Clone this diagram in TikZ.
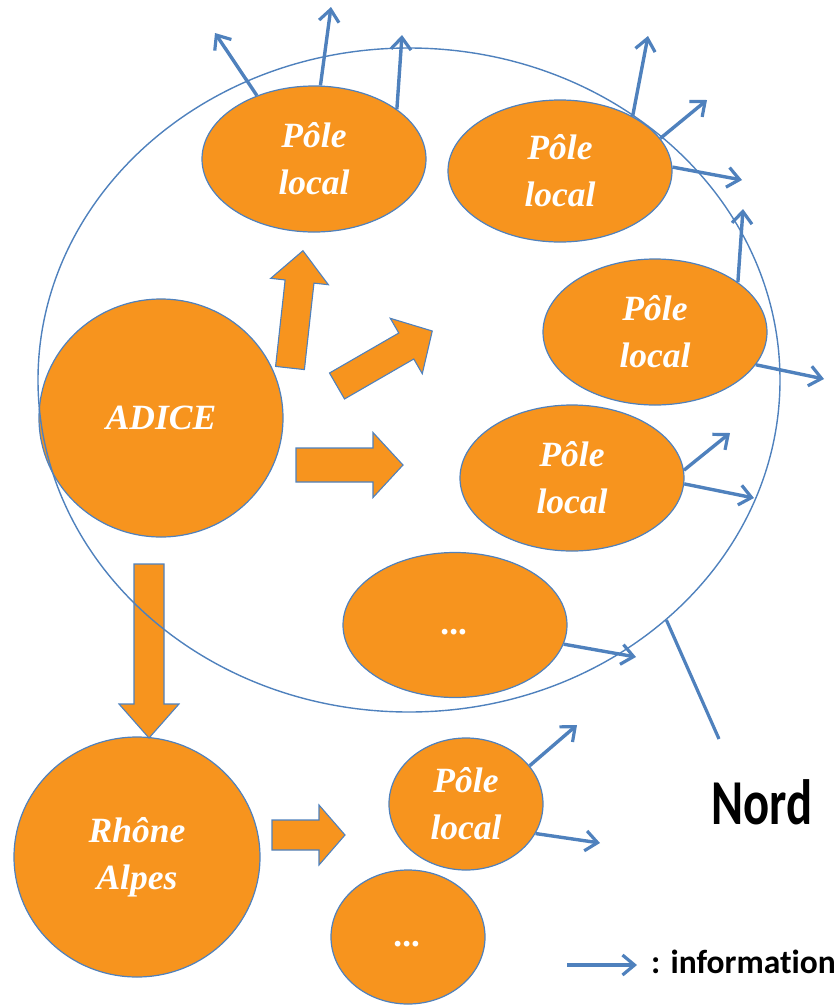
\documentclass[tikz,border=0pt]{standalone}
\usepackage{fontspec}
\setmainfont{Liberation Serif}
\newfontfamily\calfont[Ligatures=NoCommon]{Carlito}
\usetikzlibrary{shapes.geometric,arrows.meta}
\definecolor{orng}{RGB}{247,148,30}
\definecolor{blu}{RGB}{79,129,189}
\tikzset{
  orgshape/.style={ellipse, fill=orng, draw=blu, line width=1.2pt, inner sep=0pt,
    text=white, align=center, font=\fontsize{35.5}{47}\selectfont\bfseries\itshape},
  pole/.style={orgshape, minimum width=224pt, minimum height=146pt},
  small/.style={orgshape, minimum width=154pt, minimum height=132pt},
  barrow/.style={fill=orng, draw=blu, line width=1.1pt, line join=miter},
  info/.style={draw=blu, line width=3.4pt, -{Straight Barb[length=12pt,width=20pt,line width=3.2pt]}},
  region/.style={ellipse, draw=blu, line width=1.4pt, inner sep=0pt},
}
\newcommand\blockarr[7]{%
  \begin{scope}[shift={(#1,#2)},rotate=#3]
    \filldraw[barrow] (0,-#5/2) -- ({#4-#7},-#5/2) -- ({#4-#7},-#6/2) -- (#4,0)
      -- ({#4-#7},#6/2) -- ({#4-#7},#5/2) -- (0,#5/2) -- cycle;
  \end{scope}}
\begin{document}
\begin{tikzpicture}[x=1pt,y=-1pt]
\useasboundingbox (0,0) rectangle (840,1005);
% orange shapes
\node[orgshape, minimum width=244pt, minimum height=238pt] (adice) at (161,418) {ADICE};
\node[orgshape, minimum width=246pt, minimum height=240pt] (rhone) at (137,857) {Rhône\\Alpes};
\node[pole] (p1) at (314,159) {Pôle\\local};
\node[pole, minimum height=142pt] (p2) at (560,171) {Pôle\\local};
\node[pole] (p3) at (655,332) {Pôle\\local};
\node[pole] (p4) at (572,478) {Pôle\\local};
\node[pole, minimum height=145pt] (d1) at (455,625) {\strut...};
\node[small] (ps) at (466,804) {Pôle\\local};
\node[small, minimum height=134pt] (d2) at (408,937) {\strut...};
% block arrows: x, y, angle, length, shaft width, head width, head length
\blockarr{290}{368}{83.7}{118}{29}{58}{31}
\blockarr{337}{386}{30}{110}{30}{64}{30}
\blockarr{296}{465}{0}{107}{34}{65}{30}
\blockarr{149}{564}{-90}{174}{30}{60}{34}
\blockarr{272}{835}{0}{73}{30}{60}{26}
% region
\node[region, minimum width=742pt, minimum height=664pt] (nord) at (409,380) {};
% free ends
\coordinate (ta) at (215,33);
\coordinate (tb) at (331,7);
\coordinate (tc) at (402,35);
\coordinate (td) at (648,36);
\coordinate (te) at (707,100);
\coordinate (tf) at (742,180);
\coordinate (tg) at (743,209);
\coordinate (th) at (824,379);
\coordinate (ti) at (730,433);
\coordinate (tj) at (754,498);
\coordinate (tk) at (636,657);
\coordinate (tl) at (577,725);
\coordinate (tm) at (600,843);
\coordinate (nordend) at (719,739);
\coordinate (lega) at (567,965);
\coordinate (legb) at (637,965);
% information arrows
\draw[info] (p1.132.5) -- (ta);
\draw[info] (p1.85.4) -- (tb);
\draw[info] (p1.31.7) -- (tc);
\draw[info] (p2.37.5) -- (td);
\draw[info] (p2.18.4) -- (te);
\draw[info] (p2.2) -- (tf);
\draw[info] (p3.31.4) -- (tg);
\draw[info] (p3.-18.3) -- (th);
\draw[info] (p4.4) -- (ti);
\draw[info] (p4.-3.6) -- (tj);
\draw[info] (d1.-10) -- (tk);
\draw[info] (ps.31.8) -- (tl);
\draw[info] (ps.-23.7) -- (tm);
\draw[blu, line width=3.2pt] (nord.-43.6) -- (nordend);
% labels
\node[anchor=base west, inner sep=0pt] (nordlbl) at (711,824)
  {\scalebox{0.76}[1]{\calfont\bfseries\fontsize{64}{64}\selectfont Nord}};
\draw[info] (lega) -- (legb);
\node[anchor=base west, inner sep=0pt] (leglbl) at (651,973)
  {\calfont\bfseries\fontsize{33.5}{34}\selectfont : information};
\end{tikzpicture}
\end{document}
